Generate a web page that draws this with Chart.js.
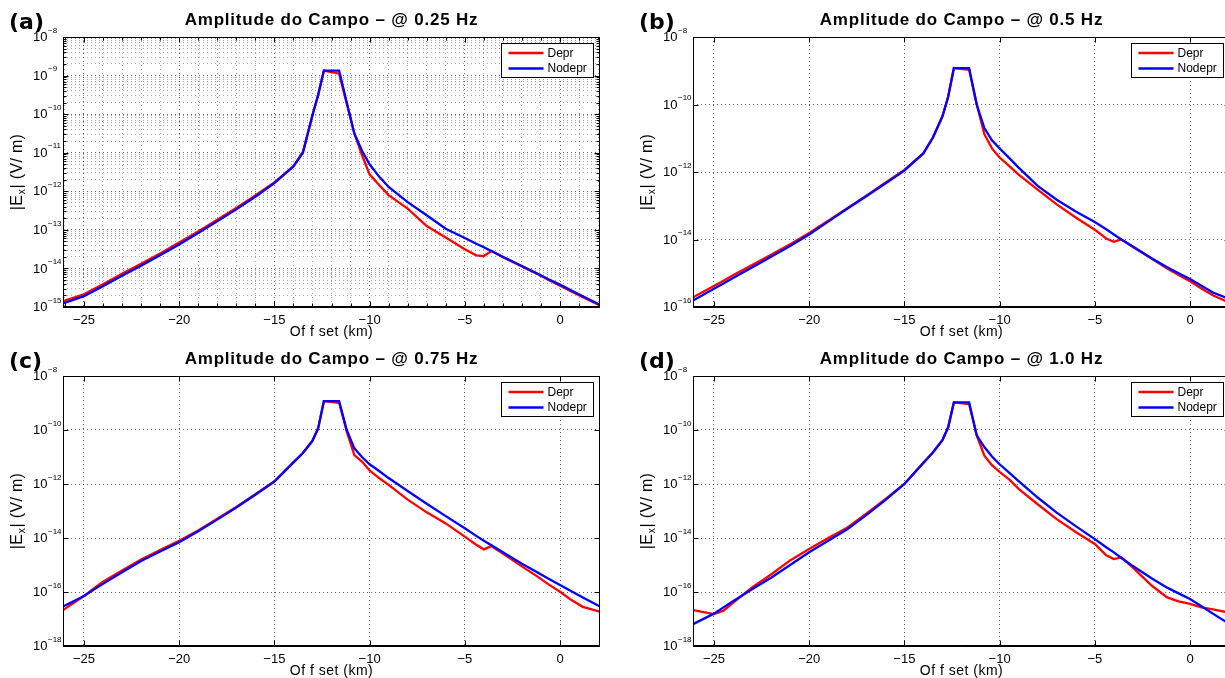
<!DOCTYPE html>
<html>
<head>
<meta charset="utf-8">
<script src="https://cdn.jsdelivr.net/npm/chart.js@4.4.0/dist/chart.umd.min.js"></script>
<style>
  html, body { margin: 0; padding: 0; background: #fff; overflow: hidden; width: 1225px; height: 678px; }
  .panel { position: absolute; width: 615px; height: 339px; }
</style>
</head>
<body>
<div class="panel" style="left:0;top:0"><canvas id="chartA" width="615" height="339"></canvas></div>
<div class="panel" style="left:630px;top:0"><canvas id="chartB" width="615" height="339"></canvas></div>
<div class="panel" style="left:0;top:339px"><canvas id="chartC" width="615" height="339"></canvas></div>
<div class="panel" style="left:630px;top:339px"><canvas id="chartD" width="615" height="339"></canvas></div>
<script>
// offset (km) common to all panels
const offsetKm = [-26.1, -25, -24.5, -24, -23, -22, -21, -20, -19, -18, -17, -16, -15, -14, -13.5, -13, -12.7, -12.4, -11.6, -11.2,
  -10.8, -10.4, -10, -9.5, -9, -8, -7, -6, -5, -4.4, -4, -3.6, -3, -2, -1.2, -0.6, 0, 0.6, 1.2, 2.1];

// |Ex| (V/m) @ 0.25 Hz
const deprA = [1.41e-15, 2.14e-15, 2.88e-15, 3.89e-15, 7.24e-15, 1.32e-14, 2.45e-14, 4.68e-14, 9.12e-14, 1.82e-13,
  3.72e-13, 7.76e-13, 1.7e-12, 4.47e-12, 1.05e-11, 9.33e-11, 3.16e-10, 1.35e-9, 1.12e-9, 1.9e-10,
  3.16e-11, 8.71e-12, 2.75e-12, 1.45e-12, 7.94e-13, 3.55e-13, 1.26e-13, 6.31e-14, 3.16e-14, 2.19e-14,
  2.09e-14, 2.82e-14, 1.95e-14, 1.12e-14, 7.24e-15, 5.01e-15, 3.55e-15, 2.51e-15, 1.78e-15, 1.1e-15];
const nodeprA = [1.23e-15, 1.91e-15, 2.57e-15, 3.47e-15, 6.46e-15, 1.17e-14, 2.19e-14, 4.17e-14, 8.32e-14, 1.66e-13,
  3.39e-13, 7.24e-13, 1.62e-12, 4.37e-12, 1.0e-11, 9.33e-11, 3.16e-10, 1.35e-9, 1.35e-9, 2.0e-10,
  3.16e-11, 1.12e-11, 5.0e-12, 2.4e-12, 1.29e-12, 5.25e-13, 2.4e-13, 1.07e-13, 6.17e-14, 4.37e-14,
  3.55e-14, 2.82e-14, 2.0e-14, 1.15e-14, 7.41e-15, 5.25e-15, 3.8e-15, 2.69e-15, 1.91e-15, 1.15e-15];

// @ 0.5 Hz
const deprB = [1.95e-16, 4.17e-16, 6.03e-16, 8.71e-16, 1.74e-15, 3.55e-15, 7.24e-15, 1.55e-14, 3.63e-14, 8.51e-14,
  2.0e-13, 4.79e-13, 1.15e-12, 3.63e-12, 1.05e-11, 4.47e-11, 1.7e-10, 1.2e-9, 1.07e-9, 1.0e-10,
  1.32e-11, 5.01e-12, 2.69e-12, 1.51e-12, 8.32e-13, 3.02e-13, 1.1e-13, 4.47e-14, 1.95e-14, 1.07e-14,
  8.51e-15, 1.0e-14, 6.03e-15, 2.69e-15, 1.38e-15, 8.91e-16, 5.75e-16, 3.55e-16, 2.24e-16, 1.32e-16];
const nodeprB = [1.55e-16, 3.47e-16, 5.01e-16, 7.24e-16, 1.48e-15, 3.09e-15, 6.46e-15, 1.41e-14, 3.39e-14, 8.13e-14,
  1.91e-13, 4.57e-13, 1.1e-12, 3.55e-12, 1.05e-11, 4.47e-11, 1.7e-10, 1.2e-9, 1.2e-9, 1.0e-10,
  2.0e-11, 8.71e-12, 5.01e-12, 2.63e-12, 1.35e-12, 3.89e-13, 1.51e-13, 6.76e-14, 3.31e-14, 2.0e-14,
  1.41e-14, 1.0e-14, 6.17e-15, 2.75e-15, 1.51e-15, 1.0e-15, 6.76e-16, 4.27e-16, 2.69e-16, 1.7e-16];

// @ 0.75 Hz
const deprC = [2.14e-17, 7.08e-17, 1.32e-16, 2.4e-16, 6.31e-16, 1.58e-15, 3.55e-15, 7.94e-15, 1.91e-14, 5.13e-14,
  1.41e-13, 4.17e-13, 1.26e-12, 6.31e-12, 1.41e-11, 3.98e-11, 1.17e-10, 1.17e-9, 1.02e-9, 8.91e-11,
  1.17e-11, 6.76e-12, 3.16e-12, 1.66e-12, 9.33e-13, 2.63e-13, 8.91e-14, 3.47e-14, 1.12e-14, 5.62e-15,
  3.8e-15, 5.01e-15, 2.63e-15, 8.91e-16, 3.8e-16, 1.91e-16, 1.02e-16, 5.01e-17, 2.82e-17, 1.86e-17];
const nodeprC = [2.88e-17, 7.08e-17, 1.2e-16, 2.0e-16, 5.37e-16, 1.41e-15, 3.16e-15, 6.92e-15, 1.78e-14, 4.79e-14,
  1.35e-13, 3.98e-13, 1.23e-12, 6.31e-12, 1.41e-11, 3.98e-11, 1.17e-10, 1.17e-9, 1.17e-9, 1.0e-10,
  2.09e-11, 1.0e-11, 5.37e-12, 3.02e-12, 1.66e-12, 5.5e-13, 1.86e-13, 6.46e-14, 2.29e-14, 1.2e-14,
  7.94e-15, 5.37e-15, 2.95e-15, 1.12e-15, 5.37e-16, 3.09e-16, 1.82e-16, 1.07e-16, 6.31e-17, 2.88e-17];

// @ 1.0 Hz
const deprD = [2.14e-17, 1.51e-17, 2.04e-17, 3.98e-17, 1.48e-16, 4.47e-16, 1.48e-15, 3.89e-15, 1.0e-14, 2.4e-14,
  7.94e-14, 2.75e-13, 1.0e-12, 6.31e-12, 1.51e-11, 4.27e-11, 1.26e-10, 1.05e-9, 9.12e-10, 6.31e-11,
  1.12e-11, 5.01e-12, 2.82e-12, 1.48e-12, 6.61e-13, 1.78e-13, 5.01e-14, 1.66e-14, 6.03e-15, 2.29e-15,
  1.66e-15, 1.91e-15, 7.94e-16, 1.7e-16, 6.31e-17, 4.47e-17, 3.63e-17, 2.69e-17, 2.29e-17, 1.7e-17];
const nodeprD = [6.46e-18, 1.58e-17, 2.69e-17, 4.57e-17, 1.26e-16, 3.39e-16, 1.0e-15, 2.95e-15, 7.94e-15, 2.09e-14,
  7.08e-14, 2.51e-13, 1.0e-12, 6.03e-12, 1.48e-11, 4.17e-11, 1.26e-10, 1.05e-9, 1.05e-9, 6.31e-11,
  2.34e-11, 1.05e-11, 5.37e-12, 2.63e-12, 1.29e-12, 3.16e-13, 8.71e-14, 2.75e-14, 9.12e-15, 4.57e-15,
  2.95e-15, 1.82e-15, 9.12e-16, 3.16e-16, 1.45e-16, 8.91e-17, 5.5e-17, 2.95e-17, 1.58e-17, 6.31e-18];

// ticks
const xTicks = [-25, -20, -15, -10, -5, 0];
const xMinorStep = 1;
const yTicksA = [1e-15, 1e-14, 1e-13, 1e-12, 1e-11, 1e-10, 1e-9, 1e-8];
const yTicksB = [1e-16, 1e-14, 1e-12, 1e-10, 1e-8];
const yTicksCD = [1e-18, 1e-16, 1e-14, 1e-12, 1e-10, 1e-8];
const minorSteps = [2, 3, 4, 5, 6, 7, 8, 9];

const titles = ["Amplitude do Campo \u2013 @ 0.25 Hz", "Amplitude do Campo \u2013 @ 0.5 Hz",
  "Amplitude do Campo \u2013 @ 0.75 Hz", "Amplitude do Campo \u2013 @ 1.0 Hz"];
const letters = ["(a)", "(b)", "(c)", "(d)"];

const FONT = '"Liberation Sans", Arial, Helvetica, sans-serif';
const minus = s => String(s).replace('-', '\u2212');

function minorLogTicks(decades) {
  const out = [];
  decades.slice(0, -1).forEach(d => minorSteps.forEach(k => out.push(k * d)));
  return out;
}

const framePlugin = {
  id: 'frame',
  afterDatasetsDraw(chart, args, opts) {
    const { ctx, chartArea: a, scales: { x, y } } = chart;
    const L = Math.round(a.left) + 0.5, R = Math.round(a.right) - 0.5;
    const T = Math.round(a.top) + 0.5, B = Math.round(a.bottom) - 0.5;
    ctx.save();
    ctx.strokeStyle = '#000';
    ctx.lineWidth = 1;
    ctx.beginPath();
    const vTick = (v, len) => {
      const px = Math.round(x.getPixelForValue(v)) + 0.5;
      ctx.moveTo(px, B); ctx.lineTo(px, B - len);
      ctx.moveTo(px, T); ctx.lineTo(px, T + len);
    };
    const hTick = (v, len) => {
      const py = Math.round(y.getPixelForValue(v)) + 0.5;
      ctx.moveTo(L, py); ctx.lineTo(L + len, py);
      ctx.moveTo(R, py); ctx.lineTo(R - len, py);
    };
    opts.xMinor.forEach(v => vTick(v, 3));
    opts.yMinor.forEach(v => hTick(v, 3));
    xTicks.forEach(v => vTick(v, 5));
    opts.yMajor.forEach(v => hTick(v, 5));
    ctx.stroke();
    ctx.strokeRect(L, T, R - L, B - T);
    ctx.beginPath();
    ctx.moveTo(L, B + 1); ctx.lineTo(R, B + 1);
    ctx.stroke();

    // legend box
    const bw = 92, bh = 34;
    const bx = Math.round(a.right) - 7 - bw + 0.5, by = Math.round(a.top) + 6 + 0.5;
    ctx.fillStyle = '#fff';
    ctx.fillRect(bx, by, bw, bh);
    ctx.strokeRect(bx, by, bw, bh);
    ctx.font = '12px ' + FONT;
    ctx.textBaseline = 'middle';
    ctx.textAlign = 'left';
    chart.data.datasets.forEach((ds, i) => {
      const ly = by + 9.5 + i * 15.5;
      ctx.strokeStyle = ds.borderColor;
      ctx.lineWidth = 2.4;
      ctx.beginPath();
      ctx.moveTo(bx + 7, ly); ctx.lineTo(bx + 42, ly);
      ctx.stroke();
      ctx.fillStyle = '#000';
      ctx.fillText(ds.label, bx + 46, ly + 0.5);
    });
    ctx.restore();
  },
  afterDraw(chart, args, opts) {
    const { ctx, chartArea: a, scales: { y } } = chart;
    const cx = (a.left + a.right) / 2;
    ctx.save();
    ctx.fillStyle = '#000';

    // y tick labels 10^n
    ctx.textAlign = 'left';
    ctx.textBaseline = 'middle';
    opts.yMajor.forEach(v => {
      const py = y.getPixelForValue(v);
      const lx = a.left - 30;
      ctx.font = '13px ' + FONT;
      ctx.fillText('10', lx, py + 0.5);
      const w = ctx.measureText('10').width;
      ctx.font = '8px ' + FONT;
      ctx.fillText(minus(Math.round(Math.log10(v))), lx + w + 0.5, py - 6.5);
    });

    // title
    ctx.textAlign = 'center';
    ctx.textBaseline = 'alphabetic';
    ctx.font = 'bold 17px ' + FONT;
    if ('letterSpacing' in ctx) ctx.letterSpacing = '0.8px';
    ctx.fillText(opts.title, cx, a.top - 12.5);
    if ('letterSpacing' in ctx) ctx.letterSpacing = '0px';

    // panel letter
    ctx.textAlign = 'left';
    ctx.font = 'bold 22px "DejaVu Sans", sans-serif';
    ctx.fillText(opts.letter, a.left - 54, a.top - 8.5);

    // x title
    ctx.textAlign = 'center';
    ctx.font = '14px ' + FONT;
    if ('letterSpacing' in ctx) ctx.letterSpacing = '0.5px';
    ctx.fillText('Of f set (km)', cx, a.bottom + 29);

    // y title |Ex| (V/ m)
    ctx.translate(a.left - 41, (a.top + a.bottom) / 2);
    ctx.rotate(-Math.PI / 2);
    ctx.textAlign = 'left';
    if ('letterSpacing' in ctx) ctx.letterSpacing = '0.3px';
    const big = '16px ' + FONT, small = '10px ' + FONT;
    ctx.font = big;
    const p1 = '|E', p3 = '| (V/ m)';
    const w1 = ctx.measureText(p1).width, w3 = ctx.measureText(p3).width;
    ctx.font = small;
    const w2 = ctx.measureText('x').width + 1;
    let sx = -(w1 + w2 + w3) / 2;
    ctx.font = big;
    ctx.fillText(p1, sx, 0);
    ctx.font = small;
    ctx.fillText('x', sx + w1 + 0.5, 3);
    ctx.font = big;
    ctx.fillText(p3, sx + w1 + w2, 0);
    ctx.restore();
  }
};

function makeChart(id, idx, depr, nodepr, yMin, yMax, yMajor, dense) {
  const yMinor = dense ? minorLogTicks(yMajor) : [];
  const xMinor = [];
  if (dense) {
    for (let v = -26; v <= 2; v += xMinorStep) if (!xTicks.includes(v)) xMinor.push(v);
  }
  const yGridTicks = yMajor.concat(yMinor).sort((p, q) => p - q);
  const xGridTicks = xTicks.concat(xMinor).sort((p, q) => p - q);

  new Chart(document.getElementById(id), {
    type: 'line',
    data: {
      datasets: [
        { label: 'Depr', data: offsetKm.map((x, i) => ({ x, y: depr[i] })), borderColor: '#ff0000',
          borderWidth: 2.3, pointRadius: 0, tension: 0, order: 2 },
        { label: 'Nodepr', data: offsetKm.map((x, i) => ({ x, y: nodepr[i] })), borderColor: '#0000ff',
          borderWidth: 2.3, pointRadius: 0, tension: 0, order: 1 }
      ]
    },
    options: {
      responsive: false,
      animation: false,
      layout: { padding: { top: 37, left: 0, right: 15, bottom: 0 } },
      plugins: {
        legend: { display: false },
        title: { display: false },
        tooltip: { enabled: false },
        frame: { title: titles[idx], letter: letters[idx], yMajor, yMinor, xMinor }
      },
      scales: {
        x: {
          type: 'linear', min: -26.1, max: 2.1,
          afterBuildTicks: s => { s.ticks = xGridTicks.map(v => ({ value: v })); },
          afterFit: s => { s.height = 32; },
          grid: {
            drawTicks: false,
            color: c => (c.tick && xTicks.includes(c.tick.value)) ? 'rgba(0,0,0,0.6)' : 'rgba(0,0,0,0.35)'
          },
          border: { display: false, dash: [1, 3] },
          ticks: {
            autoSkip: false, maxRotation: 0, padding: 6, color: '#000',
            font: { family: FONT, size: 13 },
            callback: v => xTicks.includes(v) ? minus(v) : ''
          }
        },
        y: {
          type: 'logarithmic', min: yMin, max: yMax,
          afterBuildTicks: s => { s.ticks = yGridTicks.map(v => ({ value: v })); },
          afterFit: s => { s.width = 63; },
          grid: {
            drawTicks: false,
            color: c => (c.tick && yMajor.includes(c.tick.value)) ? 'rgba(0,0,0,0.6)' : 'rgba(0,0,0,0.35)'
          },
          border: { display: false, dash: [1, 3] },
          ticks: { display: false }
        }
      }
    },
    plugins: [framePlugin]
  });
}

makeChart('chartA', 0, deprA, nodeprA, 1e-15, 1e-8, yTicksA, true);
makeChart('chartB', 1, deprB, nodeprB, 1e-16, 1e-8, yTicksB, false);
makeChart('chartC', 2, deprC, nodeprC, 1e-18, 1e-8, yTicksCD, false);
makeChart('chartD', 3, deprD, nodeprD, 1e-18, 1e-8, yTicksCD, false);
</script>
</body>
</html>
